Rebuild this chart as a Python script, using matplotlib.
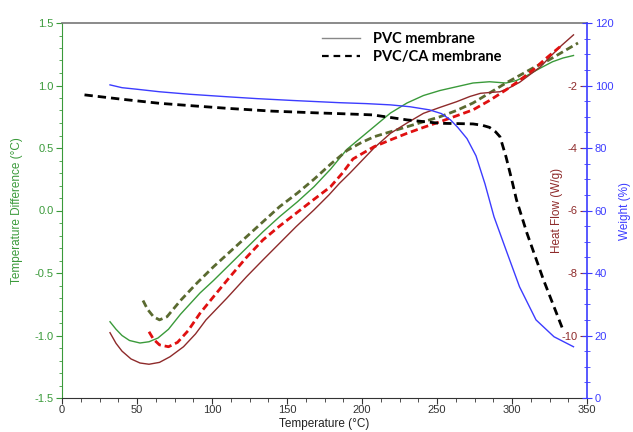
import matplotlib
matplotlib.use("Agg")
import matplotlib.pyplot as plt
from matplotlib.lines import Line2D
from matplotlib.ticker import MultipleLocator, FixedLocator

plt.rcParams['font.family'] = ['Liberation Sans', 'DejaVu Sans']
plt.rcParams['axes.unicode_minus'] = False

# PVC membrane - temperature difference (green, solid)
t_pvc_td = [32, 36, 40, 45, 52, 58, 64, 71, 79, 92, 101, 112, 123, 134, 145, 157, 168, 179, 190,
            199, 208, 219, 230, 241, 252, 263, 274, 285, 296, 303, 310, 319, 327, 334, 341]
pvc_td = [-0.89, -0.95, -1.00, -1.04, -1.06, -1.05, -1.02, -0.95, -0.83, -0.66, -0.56, -0.43, -0.30,
          -0.17, -0.05, 0.07, 0.19, 0.33, 0.49, 0.58, 0.67, 0.78, 0.86, 0.92, 0.96, 0.99, 1.02, 1.03,
          1.02, 1.04, 1.08, 1.14, 1.19, 1.22, 1.24]

# PVC/CA membrane - temperature difference (olive, dashed)
t_ca_td = [54, 57, 61, 65, 70, 79, 90, 101, 112, 123, 134, 145, 157, 168, 179, 190, 199, 208, 219,
           230, 241, 252, 263, 274, 285, 296, 305, 314, 324, 334, 344]
ca_td = [-0.72, -0.79, -0.85, -0.875, -0.85, -0.72, -0.58, -0.45, -0.33, -0.21, -0.09, 0.03, 0.14,
         0.25, 0.37, 0.48, 0.54, 0.59, 0.63, 0.67, 0.71, 0.75, 0.80, 0.86, 0.94, 1.02, 1.08, 1.14,
         1.20, 1.27, 1.34]

# PVC membrane - heat flow (dark red, solid)
t_pvc_hf = [32, 36, 40, 46, 52, 58, 65, 72, 81, 89, 96, 110, 123, 134, 145, 156, 168, 178, 185, 192,
            199, 208, 219, 230, 241, 252, 263, 272, 279, 286, 292, 298, 305, 312, 319, 326, 333, 341]
pvc_hf = [-9.91, -10.25, -10.5, -10.75, -10.88, -10.92, -10.86, -10.68, -10.36, -9.95, -9.5, -8.8,
          -8.12, -7.58, -7.05, -6.52, -5.98, -5.50, -5.13, -4.80, -4.45, -4.0, -3.53, -3.20, -2.89,
          -2.70, -2.52, -2.35, -2.25, -2.22, -2.20, -2.08, -1.90, -1.65, -1.40, -1.05, -0.72, -0.38]

# PVC/CA membrane - heat flow (red, dashed)
t_ca_hf = [58, 61, 65, 71, 77, 84, 92, 102, 112, 123, 134, 145, 156, 167, 179, 187, 194, 208, 219,
           230, 241, 252, 263, 274, 285, 296, 305, 314, 323, 332]
ca_hf = [-9.88, -10.12, -10.30, -10.36, -10.22, -9.85, -9.29, -8.7, -8.12, -7.50, -6.94, -6.50,
         -6.09, -5.68, -5.24, -4.80, -4.35, -3.96, -3.74, -3.53, -3.34, -3.16, -2.97, -2.78, -2.48,
         -2.14, -1.84, -1.50, -1.12, -0.76]

# PVC membrane - weight (blue, solid)
t_pvc_w = [32, 40, 50, 65, 85, 110, 130, 154, 185, 203, 219, 232, 245, 253, 259, 264, 270, 276,
           282, 288, 296, 305, 316, 328, 341]
pvc_w = [100.2, 99.3, 98.8, 98.0, 97.2, 96.4, 95.8, 95.2, 94.5, 94.2, 93.8, 93.2, 92.2, 91.0, 89.0,
         86.5, 83.0, 77.5, 68.5, 58.0, 47.4, 35.6, 25.0, 19.6, 16.4]

# PVC/CA membrane - weight (black, dashed)
t_ca_w = [15, 40, 65, 90, 110, 140, 172, 185, 207, 230, 252, 265, 274, 280, 285, 289, 292, 296,
          300, 303, 310, 321, 334]
ca_w = [97.0, 95.6, 94.3, 93.4, 92.7, 91.8, 91.2, 91.0, 90.6, 89.0, 87.9, 87.8, 87.7, 87.3, 86.6,
        85.2, 83.6, 77.2, 69.5, 63.4, 52.7, 37.8, 21.8]

green = "#3a9a3a"
olive = "#5a6a30"
darkred = "#8e2a2a"
red = "#e01010"
blue = "#3c3cff"

fig = plt.figure(figsize=(6.33, 4.32), dpi=100)
ax = fig.add_axes([62 / 633, 1 - 398 / 432, 525 / 633, 375 / 432])
ax_hf = ax.twinx()
ax_w = ax.twinx()

# Temperature difference curves
ax.plot(t_pvc_td, pvc_td, color=green, lw=1.0)
ax.plot(t_ca_td, ca_td, color=olive, lw=2.0, dashes=(2.6, 1.4))

# Heat flow curves
ax_hf.plot(t_pvc_hf, pvc_hf, color=darkred, lw=1.0)
ax_hf.plot(t_ca_hf, ca_hf, color=red, lw=2.0, dashes=(2.6, 1.4))

# Weight curves
ax_w.plot(t_pvc_w, pvc_w, color=blue, lw=1.0)
ax_w.plot(t_ca_w, ca_w, color="black", lw=2.0, dashes=(3.0, 1.8))

# x axis
ax.set_xlim(0, 350)
ax.xaxis.set_major_locator(MultipleLocator(50))
ax.xaxis.set_minor_locator(MultipleLocator(12.5))
ax.tick_params(axis='x', which='both', direction='out', colors='#333333', labelsize=8, pad=1)
ax.tick_params(axis='x', which='major', length=4)
ax.tick_params(axis='x', which='minor', length=3)
ax.set_xlabel("Temperature (°C)", fontsize=8.5, color='#222222', labelpad=2)

# left axis
ax.set_ylim(-1.5, 1.5)
ax.yaxis.set_major_locator(MultipleLocator(0.5))
ax.yaxis.set_minor_locator(MultipleLocator(0.1))
ax.tick_params(axis='y', which='both', direction='out', colors=green, labelsize=8, pad=2)
ax.tick_params(axis='y', which='major', length=4)
ax.tick_params(axis='y', which='minor', length=2.5)
ax.set_ylabel("Temperature Difference (°C)", fontsize=8.5, color=green)
ax.yaxis.set_label_coords(-0.074, 0.5)
ax.spines['left'].set_color(green)
ax.spines['bottom'].set_color('#333333')
ax.spines['top'].set_color('#777777')
ax.spines['top'].set_linewidth(1.2)
ax.spines['right'].set_visible(False)

# heat flow axis (labels left of the right spine)
ax_hf.set_ylim(-12, 0)
ax_hf.yaxis.tick_left()
ax_hf.spines['left'].set_position(('axes', 1.0))
for s in ax_hf.spines.values():
    s.set_color('none')
ax_hf.yaxis.set_major_locator(FixedLocator([-10, -8, -6, -4, -2]))
ax_hf.yaxis.set_minor_locator(MultipleLocator(0.5))
ax_hf.tick_params(axis='y', which='both', direction='out', colors=darkred, labelsize=8, pad=2)
ax_hf.tick_params(axis='y', which='major', length=5)
ax_hf.tick_params(axis='y', which='minor', length=0)
ax_hf.set_ylabel("Heat Flow (W/g)", fontsize=8.5, color=darkred)
ax_hf.yaxis.set_label_coords(0.931, 0.5)

# weight axis
ax_w.set_ylim(0, 120)
ax_w.yaxis.set_major_locator(MultipleLocator(20))
ax_w.yaxis.set_minor_locator(MultipleLocator(5))
ax_w.tick_params(axis='y', which='both', direction='inout', colors=blue, labelsize=8, pad=2)
ax_w.tick_params(axis='y', which='major', length=7)
ax_w.tick_params(axis='y', which='minor', length=5)
ax_w.set_ylabel("Weight (%)", fontsize=8.5, color=blue)
ax_w.yaxis.set_label_coords(1.061, 0.5)
for name, s in ax_w.spines.items():
    s.set_color(blue if name == 'right' else 'none')
ax_w.spines['right'].set_linewidth(1.2)

# legend
handles = [Line2D([], [], color='#888888', lw=1.0),
           Line2D([], [], color='black', lw=1.6, dashes=(3, 2.2))]
leg = ax_w.legend(handles, ["PVC membrane", "PVC/CA membrane"], loc='upper left',
                  bbox_to_anchor=(0.495, 0.975), frameon=False, borderpad=0, borderaxespad=0,
                  handlelength=2.6, handletextpad=0.9, labelspacing=0.25,
                  prop={'family': 'Lato', 'weight': 'bold', 'size': 10.5})

fig.savefig("out.png", dpi=100, facecolor='white')
